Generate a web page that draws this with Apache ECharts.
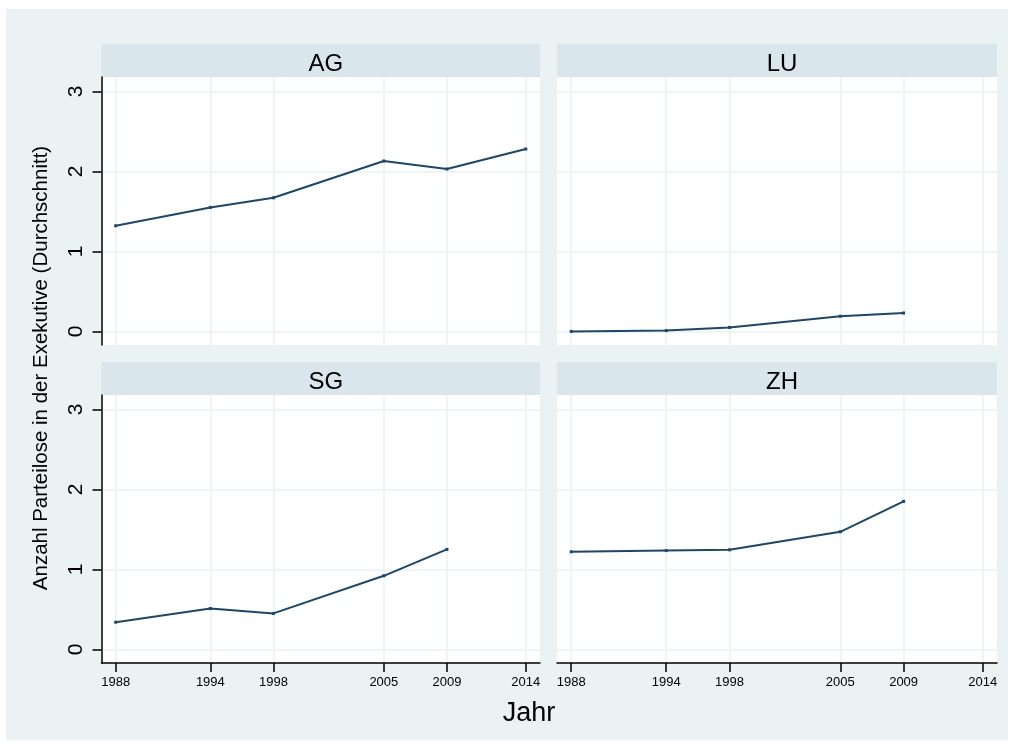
<!DOCTYPE html>
<html>
<head>
<meta charset="utf-8">
<script src="https://cdn.jsdelivr.net/npm/echarts@6/dist/echarts.min.js"></script>
<style>html,body{margin:0;padding:0;background:#fff}#c{width:1014px;height:746px}</style>
</head>
<body>
<div id="c"></div>
<script>
// ---- data ----
const years = [1988, 1994, 1998, 2005, 2009, 2014];
const yTicks = [0, 1, 2, 3];
const panels = ['AG', 'LU', 'SG', 'ZH'];
const AG = [1.32, 1.55, 1.67, 2.13, 2.03, 2.28];
const LU = [0.00, 0.01, 0.05, 0.19, 0.23, null];
const SG = [0.34, 0.51, 0.45, 0.92, 1.25, null];
const ZH = [1.22, 1.235, 1.245, 1.47, 1.85, null];
const yTitle = 'Anzahl Parteilose in der Exekutive (Durchschnitt)';
const xTitle = 'Jahr';

const seriesData = { AG, LU, SG, ZH };
const FONT = 'Liberation Sans, Arial, sans-serif';
const LINE = '#1a476f';
const GRIDC = '#eaf2f3';
const STRIP = '#d9e6eb';

const boxes = [
  { left: 101.5, top: 77, width: 438.5, height: 268 },
  { left: 557, top: 77, width: 440, height: 268 },
  { left: 101.5, top: 395, width: 438.5, height: 268 },
  { left: 557, top: 395, width: 440, height: 268 }
];
const stripH = 33;

const grid = [], xAxis = [], yAxis = [], series = [], title = [], graphic = [];
graphic.push({ type: 'rect', left: 6, top: 9, shape: { width: 1002, height: 731 }, style: { fill: '#eaf2f3' }, z: -10 });

panels.forEach((p, i) => {
  const b = boxes[i];
  const isLeft = i % 2 === 0, isBottom = i >= 2;
  grid.push({ left: b.left, top: b.top, width: b.width, height: b.height, show: true, backgroundColor: '#fff', borderWidth: 0 });
  graphic.push({ type: 'rect', left: b.left, top: b.top - stripH, shape: { width: b.width, height: stripH }, style: { fill: STRIP }, z: -5 });
  title.push({ text: p, left: b.left + b.width / 2, top: b.top - stripH + 3, textAlign: 'center',
    textStyle: { fontFamily: FONT, fontSize: 24, fontWeight: 'normal', color: '#000' } });
  xAxis.push({
    type: 'value', gridIndex: i, min: 1987.1, max: 2014.9,
    axisLine: { show: isBottom, onZero: false, lineStyle: { color: '#000', width: 1.5 } },
    axisTick: { show: isBottom, length: 9, customValues: years, lineStyle: { color: '#000', width: 1.5 } },
    axisLabel: { show: isBottom, customValues: years, margin: 13, fontFamily: FONT, fontSize: 13, color: '#000', formatter: v => String(v) },
    splitLine: { show: true, lineStyle: { color: GRIDC, width: 1.5 } }
  });
  yAxis.push({
    type: 'value', gridIndex: i, min: -0.17, max: 3.18,
    axisLine: { show: isLeft, onZero: false, lineStyle: { color: '#000', width: 1.5 } },
    axisTick: { show: isLeft, length: 9, customValues: yTicks, lineStyle: { color: '#000', width: 1.5 } },
    axisLabel: { show: isLeft, customValues: yTicks, rotate: 90, margin: 15, fontFamily: FONT, fontSize: 21, color: '#000' },
    splitLine: { show: true, lineStyle: { color: GRIDC, width: 1.5 } }
  });
  series.push({
    type: 'line', xAxisIndex: i, yAxisIndex: i,
    data: years.map((y, k) => [y, seriesData[p][k]]).filter(d => d[1] !== null),
    symbol: 'rect', symbolSize: 3, showSymbol: true,
    lineStyle: { color: LINE, width: 2 }, itemStyle: { color: LINE },
    animation: false
  });
});

graphic.push({ type: 'text', x: 41, y: 368, rotation: Math.PI / 2,
  style: { text: yTitle, font: '20.5px ' + FONT, fill: '#000', textAlign: 'center', textVerticalAlign: 'middle' } });
graphic.push({ type: 'text', x: 529, y: 714,
  style: { text: xTitle, font: '27px ' + FONT, fill: '#000', textAlign: 'center', textVerticalAlign: 'middle' } });

const chart = echarts.init(document.getElementById('c'), null, { renderer: 'canvas' });
chart.setOption({ backgroundColor: '#fff', animation: false, grid, xAxis, yAxis, series, title, graphic });
</script>
</body>
</html>
